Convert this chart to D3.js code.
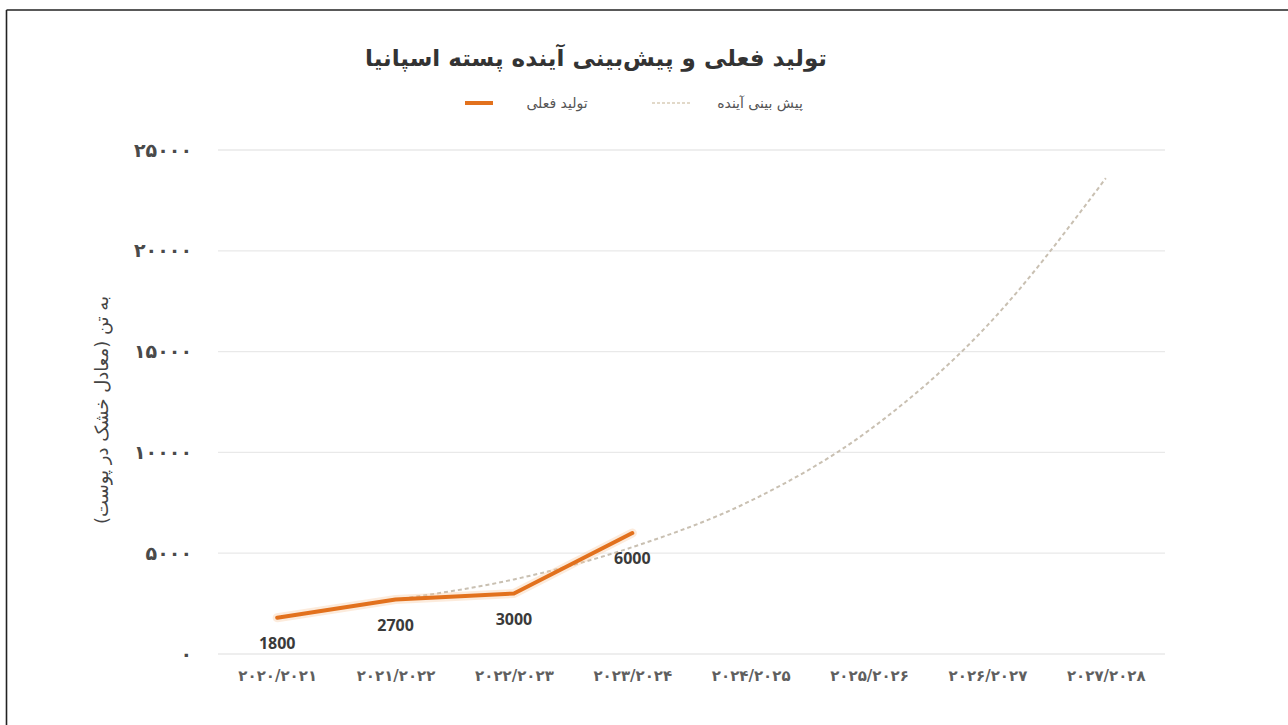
<!DOCTYPE html>
<html lang="fa">
<head>
<meta charset="utf-8">
<script src="https://cdn.jsdelivr.net/npm/d3@7"></script>
<style>
  html, body { margin: 0; padding: 0; background: #fff; }
  svg { display: block; }
</style>
</head>
<body>
<svg id="chart" width="1288" height="725"></svg>
<script>
// ---- data ----
const categories = ["۲۰۲۰/۲۰۲۱","۲۰۲۱/۲۰۲۲","۲۰۲۲/۲۰۲۳","۲۰۲۳/۲۰۲۴","۲۰۲۴/۲۰۲۵","۲۰۲۵/۲۰۲۶","۲۰۲۶/۲۰۲۷","۲۰۲۷/۲۰۲۸"];
const actualValues = [1800, 2700, 3000, 6000];
const forecastCategories = ["۲۰۲۱/۲۰۲۲","۲۰۲۲/۲۰۲۳","۲۰۲۳/۲۰۲۴","۲۰۲۴/۲۰۲۵","۲۰۲۵/۲۰۲۶","۲۰۲۶/۲۰۲۷","۲۰۲۷/۲۰۲۸"];
const forecastValues = [2700, 3700, 5300, 7600, 11100, 16300, 23600];
const yTicks = [0, 5000, 10000, 15000, 20000, 25000];
const titleText = "تولید فعلی و پیش‌بینی آینده پسته اسپانیا";
const seriesNames = ["تولید فعلی", "پیش بینی آینده"];
const yAxisTitle = "به تن (معادل خشک در پوست)";

(function () {
// ---- helpers ----
const faDigits = s => String(s).replace(/\d/g, d => "۰۱۲۳۴۵۶۷۸۹"[+d]);

const svg = d3.select("#chart");
const W = 1288, H = 725;
const pLeft = 218, pRight = 1165, pTop = 150, pBottom = 654;

// outer frame (top and left edges visible)
svg.append("line").attr("x1", 6.5).attr("x2", W).attr("y1", 10).attr("y2", 10)
  .attr("stroke", "#222").attr("stroke-width", 1.6);
svg.append("line").attr("x1", 6.5).attr("x2", 6.5).attr("y1", 10).attr("y2", H)
  .attr("stroke", "#222").attr("stroke-width", 1.6);

const x = d3.scalePoint().domain(categories).range([pLeft, pRight]).padding(0.5);
const y = d3.scaleLinear().domain([0, 25000]).range([pBottom, pTop]);

// gridlines
svg.append("g").selectAll("line").data(yTicks).join("line")
  .attr("x1", pLeft).attr("x2", pRight)
  .attr("y1", d => y(d)).attr("y2", d => y(d))
  .attr("stroke", "#e9e9e9").attr("stroke-width", 1.3);

// y axis labels
const yAxis = d3.axisLeft(y).tickValues(yTicks).tickSize(0).tickPadding(0)
  .tickFormat(d => faDigits(d));
const gy = svg.append("g").attr("transform", "translate(192,0)").call(yAxis);
gy.select(".domain").remove();
gy.selectAll("text").attr("font-family", "DejaVu Sans").attr("font-size", 19)
  .attr("font-weight", "bold").attr("fill", "#4a4a4a").attr("direction", "ltr")
  .attr("letter-spacing", 2.5);

// x axis labels
const xAxis = d3.axisBottom(x).tickSize(0).tickPadding(0);
const gx = svg.append("g").attr("transform", "translate(0,670)").call(xAxis);
gx.select(".domain").remove();
gx.selectAll("text").attr("font-family", "DejaVu Sans").attr("font-size", 15)
  .attr("font-weight", "bold").attr("fill", "#5f5f5f").attr("direction", "ltr")
  .attr("letter-spacing", 2.2);

// y axis title
svg.append("text")
  .attr("transform", "translate(108,410) rotate(-90)")
  .attr("text-anchor", "middle")
  .attr("font-family", "DejaVu Sans").attr("font-size", 18).attr("fill", "#444")
  .attr("direction", "rtl")
  .text(yAxisTitle);

// forecast line
const fData = forecastCategories.map((c, i) => ({c, v: forecastValues[i]}));
const line = d3.line().x(d => x(d.c)).y(d => y(d.v)).curve(d3.curveMonotoneX);
svg.append("path").datum(fData)
  .attr("d", line)
  .attr("fill", "none").attr("stroke", "#c9c0b2").attr("stroke-width", 2)
  .attr("stroke-dasharray", "4,3");

// actual line
const aData = actualValues.map((v, i) => ({c: categories[i], v}));
const line2 = d3.line().x(d => x(d.c)).y(d => y(d.v));
svg.append("path").datum(aData).attr("d", line2)
  .attr("fill", "none").attr("stroke", "#f6c79a").attr("stroke-width", 9)
  .attr("stroke-opacity", 0.35).attr("stroke-linejoin", "round").attr("stroke-linecap", "round");
svg.append("path").datum(aData).attr("d", line2)
  .attr("fill", "none").attr("stroke", "#e2711d").attr("stroke-width", 4)
  .attr("stroke-linejoin", "round").attr("stroke-linecap", "round");

// data labels
svg.append("g").selectAll("text").data(aData).join("text")
  .attr("x", d => x(d.c)).attr("y", d => y(d.v) + 31)
  .attr("text-anchor", "middle")
  .attr("font-family", "Open Sans").attr("font-weight", "bold").attr("font-size", 16)
  .attr("fill", "#3a3a3a")
  .text(d => d.v);

// title
svg.append("text").attr("x", 596).attr("y", 66).attr("text-anchor", "middle")
  .attr("font-family", "DejaVu Sans").attr("font-weight", "bold").attr("font-size", 23)
  .attr("fill", "#333").attr("direction", "rtl")
  .text(titleText);

// legend
const lg = svg.append("g");
lg.append("line").attr("x1", 465).attr("x2", 493).attr("y1", 103).attr("y2", 103)
  .attr("stroke", "#e2711d").attr("stroke-width", 4);
lg.append("text").attr("x", 557).attr("y", 108).attr("text-anchor", "middle")
  .attr("font-family", "DejaVu Sans").attr("font-size", 14).attr("fill", "#555")
  .attr("direction", "rtl").text(seriesNames[0]);
lg.append("line").attr("x1", 652).attr("x2", 692).attr("y1", 103).attr("y2", 103)
  .attr("stroke", "#d9cdb8").attr("stroke-width", 1.5).attr("stroke-dasharray", "3,2");
lg.append("text").attr("x", 760).attr("y", 108).attr("text-anchor", "middle")
  .attr("font-family", "DejaVu Sans").attr("font-size", 14).attr("fill", "#555")
  .attr("direction", "rtl").text(seriesNames[1]);
})();
</script>
</body>
</html>
